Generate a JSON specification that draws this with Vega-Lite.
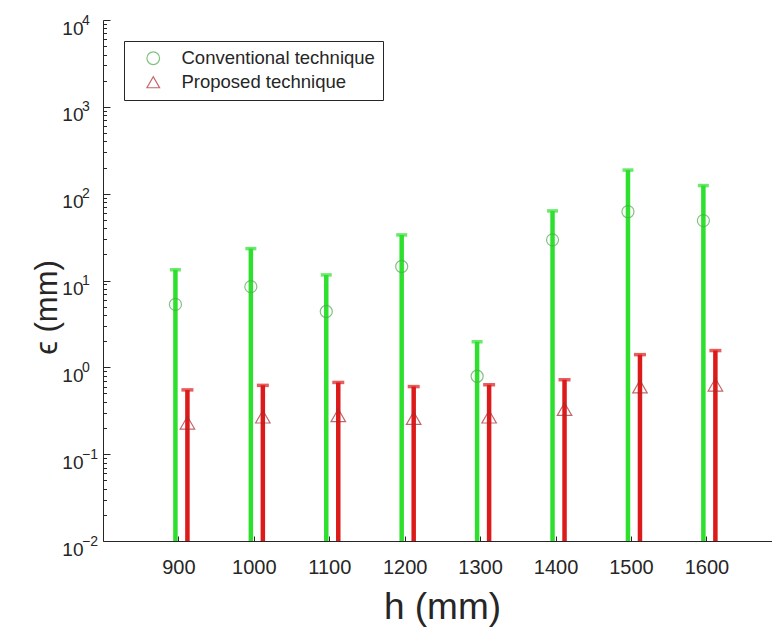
{
  "$schema": "https://vega.github.io/schema/vega-lite/v6.json",
  "width": 669,
  "height": 521,
  "autosize": {"type": "none"},
  "padding": {"left": 103, "top": 20, "right": 0, "bottom": 86},
  "background": "white",
  "config": {
    "view": {"stroke": null},
    "font": "Liberation Sans",
    "axis": {
      "grid": false,
      "domainColor": "#262626",
      "domainWidth": 1,
      "tickColor": "#262626",
      "tickWidth": 1,
      "labelColor": "#262626",
      "titleColor": "#262626",
      "labelFont": "Liberation Sans",
      "titleFont": "Liberation Sans",
      "titleFontWeight": "normal",
      "labelOverlap": false,
      "labelBound": false,
      "labelFlush": false
    },
    "legend": {
      "orient": "none",
      "legendX": 21,
      "legendY": 21,
      "strokeColor": "#262626",
      "fillColor": "white",
      "padding": 8,
      "labelFont": "Liberation Sans",
      "labelFontSize": 18.5,
      "labelColor": "#262626",
      "labelLimit": 0,
      "labelOffset": 19,
      "symbolSize": 160,
      "symbolStrokeWidth": 1.2,
      "symbolOffset": 12,
      "rowPadding": 5
    }
  },
  "datasets": {
    "errors": [
      {"h": 900, "method": "Conventional technique", "mean": 5.3, "upper": 13.3},
      {"h": 1000, "method": "Conventional technique", "mean": 8.5, "upper": 23.3},
      {"h": 1100, "method": "Conventional technique", "mean": 4.4, "upper": 11.6},
      {"h": 1200, "method": "Conventional technique", "mean": 14.5, "upper": 33.5},
      {"h": 1300, "method": "Conventional technique", "mean": 0.79, "upper": 1.97},
      {"h": 1400, "method": "Conventional technique", "mean": 29.4, "upper": 63.3},
      {"h": 1500, "method": "Conventional technique", "mean": 62, "upper": 187},
      {"h": 1600, "method": "Conventional technique", "mean": 49, "upper": 124},
      {"h": 900, "method": "Proposed technique", "mean": 0.23, "upper": 0.55},
      {"h": 1000, "method": "Proposed technique", "mean": 0.27, "upper": 0.62},
      {"h": 1100, "method": "Proposed technique", "mean": 0.28, "upper": 0.67},
      {"h": 1200, "method": "Proposed technique", "mean": 0.26, "upper": 0.6},
      {"h": 1300, "method": "Proposed technique", "mean": 0.27, "upper": 0.63},
      {"h": 1400, "method": "Proposed technique", "mean": 0.33, "upper": 0.72},
      {"h": 1500, "method": "Proposed technique", "mean": 0.6, "upper": 1.4},
      {"h": 1600, "method": "Proposed technique", "mean": 0.63, "upper": 1.56}
    ],
    "decades": [
      {"v": 0.01, "exponent": "−2"},
      {"v": 0.1, "exponent": "−1"},
      {"v": 1, "exponent": "0"},
      {"v": 10, "exponent": "1"},
      {"v": 100, "exponent": "2"},
      {"v": 1000, "exponent": "3"},
      {"v": 10000, "exponent": "4"}
    ]
  },
  "layer": [
    {
      "data": {"name": "errors"},
      "encoding": {
        "x": {
          "field": "h",
          "type": "quantitative",
          "title": "h (mm)",
          "scale": {"domain": [800, 1687], "nice": false, "zero": false},
          "axis": {
            "values": [900, 1000, 1100, 1200, 1300, 1400, 1500, 1600],
            "format": "d",
            "tickSize": -5,
            "labelFontSize": 20,
            "labelPadding": 21,
            "titleFontSize": 37,
            "titleX": 339,
            "titleY": 77,
            "titleAlign": "center",
            "titleBaseline": "alphabetic"
          }
        },
        "y": {
          "field": "upper",
          "type": "quantitative",
          "title": "ϵ (mm)",
          "scale": {"type": "log", "domain": [0.01, 10000], "nice": false},
          "axis": {
            "values": [0.01, 0.02, 0.03, 0.04, 0.05, 0.06, 0.07, 0.08, 0.09,
                       0.1, 0.2, 0.3, 0.4, 0.5, 0.6, 0.7, 0.8, 0.9,
                       1, 2, 3, 4, 5, 6, 7, 8, 9,
                       10, 20, 30, 40, 50, 60, 70, 80, 90,
                       100, 200, 300, 400, 500, 600, 700, 800, 900,
                       1000, 2000, 3000, 4000, 5000, 6000, 7000, 8000, 9000, 10000],
            "labelExpr": "indexof([0.01, 0.1, 1, 10, 100, 1000, 10000], datum.value) >= 0 ? '10' : ''",
            "tickSize": {
              "condition": {"test": "indexof([0.01, 0.1, 1, 10, 100, 1000, 10000], datum.value) >= 0", "value": -7},
              "value": -3.5
            },
            "labelFontSize": 19,
            "labelPadding": 27,
            "labelBaseline": "alphabetic",
            "labelOffset": 14,
            "titleFontSize": 31,
            "titleAngle": -90,
            "titleX": -47,
            "titleY": 287,
            "titleAlign": "center",
            "titleBaseline": "alphabetic"
          }
        }
      },
      "layer": [
        {
          "transform": [{"filter": "datum.method === 'Conventional technique'"}],
          "layer": [
            {
              "mark": {"type": "rule", "color": "#2ee02e", "strokeWidth": 4.5, "xOffset": -3},
              "encoding": {"y2": {"datum": 0.01}}
            },
            {
              "mark": {"type": "tick", "orient": "horizontal", "color": "#2ee02e", "size": 11, "thickness": 3.5, "xOffset": -3},
              "encoding": {}
            },
            {
              "mark": {"type": "point", "filled": false, "strokeWidth": 1.2, "size": 145, "xOffset": -3},
              "encoding": {
                "y": {"field": "mean", "type": "quantitative", "title": "ϵ (mm)"},
                "shape": {"field": "method", "type": "nominal", "scale": {"domain": ["Conventional technique", "Proposed technique"], "range": ["circle", "triangle-up"]}, "legend": {"title": null}},
                "stroke": {"field": "method", "type": "nominal", "scale": {"domain": ["Conventional technique", "Proposed technique"], "range": ["#4fa84f", "#a8282c"]}, "legend": {"title": null}}
              }
            }
          ]
        },
        {
          "transform": [{"filter": "datum.method === 'Proposed technique'"}],
          "layer": [
            {
              "mark": {"type": "rule", "color": "#dd1a1a", "strokeWidth": 4.5, "xOffset": 9},
              "encoding": {"y2": {"datum": 0.01}}
            },
            {
              "mark": {"type": "tick", "orient": "horizontal", "color": "#dd1a1a", "size": 12, "thickness": 3.5, "xOffset": 9},
              "encoding": {}
            },
            {
              "mark": {"type": "point", "filled": false, "strokeWidth": 1.2, "size": 210, "xOffset": 9},
              "encoding": {
                "y": {"field": "mean", "type": "quantitative", "title": "ϵ (mm)"},
                "shape": {"field": "method", "type": "nominal", "scale": {"domain": ["Conventional technique", "Proposed technique"], "range": ["circle", "triangle-up"]}, "legend": {"title": null}},
                "stroke": {"field": "method", "type": "nominal", "scale": {"domain": ["Conventional technique", "Proposed technique"], "range": ["#4fa84f", "#a8282c"]}, "legend": {"title": null}}
              }
            }
          ]
        }
      ]
    },
    {
      "data": {"name": "decades"},
      "mark": {"type": "text", "align": "left", "baseline": "alphabetic", "fontSize": 14, "font": "Liberation Sans", "color": "#262626", "dx": -21, "dy": 4.5},
      "encoding": {
        "x": {"datum": 800, "type": "quantitative"},
        "y": {"field": "v", "type": "quantitative", "title": "ϵ (mm)"},
        "text": {"field": "exponent", "type": "nominal"}
      }
    }
  ]
}
